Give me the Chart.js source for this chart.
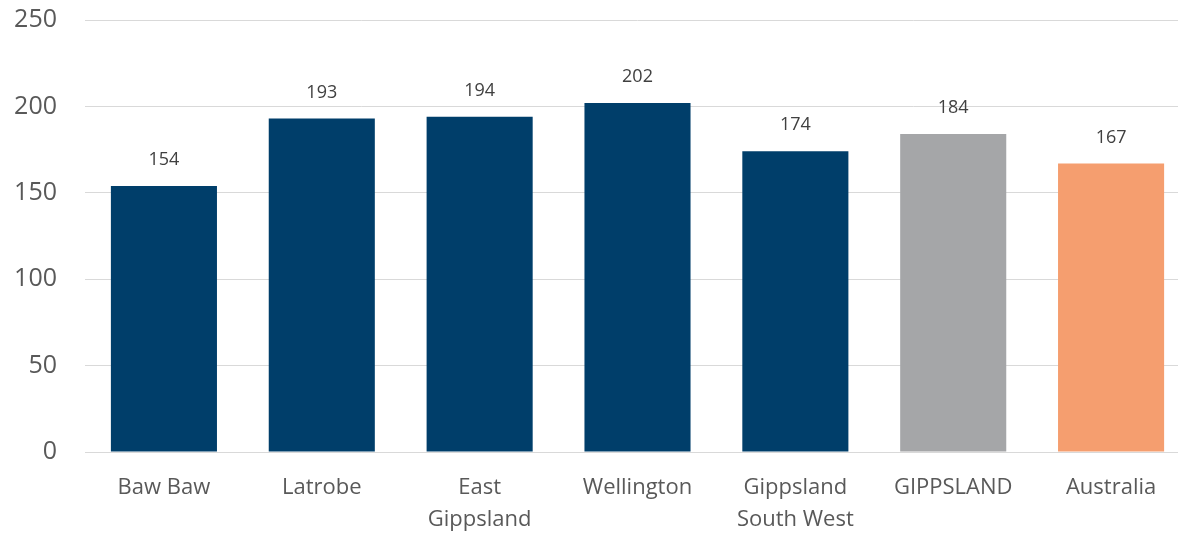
<!DOCTYPE html>
<html>
<head>
<meta charset="utf-8">
<script src="https://cdn.jsdelivr.net/npm/chart.js@4/dist/chart.umd.min.js"></script>
<style>
  html, body { margin: 0; padding: 0; background: #fff; overflow: hidden; }
  #wrap { width: 1190px; height: 557px; margin-top: -23px; position: relative; }
</style>
</head>
<body>
<div id="wrap"><canvas id="chart"></canvas></div>
<script>
'use strict';

var regions = [['Baw Baw'], ['Latrobe'], ['East', 'Gippsland'], ['Wellington'], ['Gippsland', 'South West'], ['GIPPSLAND'], ['Australia']];
var rates = [154, 193, 194, 202, 174, 184, 167];
var barColours = ['#003e6a', '#003e6a', '#003e6a', '#003e6a', '#003e6a', '#a5a6a8', '#f59e6f'];
var yTicks = [0, 50, 100, 150, 200, 250];

var FONT = '"Open Sans", "Noto Sans", sans-serif';

// writes each bar's value just above it
var valueLabels = {
  id: 'valueLabels',
  afterDatasetsDraw: function(chart) {
    var ctx = chart.ctx;
    var meta = chart.getDatasetMeta(0);
    ctx.save();
    ctx.font = '18px ' + FONT;
    ctx.fillStyle = '#404040';
    ctx.textAlign = 'center';
    ctx.textBaseline = 'middle';
    for (var i = 0; i < meta.data.length; i++) {
      var bar = meta.data[i];
      ctx.fillText(String(rates[i]), bar.x, bar.y - 26);
    }
    ctx.restore();
  }
};

var ctx = document.getElementById('chart');

new Chart(ctx, {
  type: 'bar',
  data: {
    labels: regions,
    datasets: [{
      data: rates,
      backgroundColor: barColours,
      barPercentage: 0.672,
      categoryPercentage: 1
    }]
  },
  options: {
    responsive: true,
    maintainAspectRatio: false,
    animation: false,
    layout: { autoPadding: false, padding: { top: 0, right: 0, left: 12, bottom: 0 } },
    plugins: {
      legend: { display: false },
      tooltip: { enabled: false }
    },
    scales: {
      x: {
        grid: { display: false, drawTicks: false },
        border: { color: '#d9d9d9', width: 1 },
        afterFit: function(axis) { axis.height = 82; },
        ticks: {
          color: '#595959',
          font: { family: FONT, size: 22, lineHeight: 1.45 },
          padding: 20,
          maxRotation: 0
        }
      },
      y: {
        min: 0,
        max: 250,
        afterBuildTicks: function(axis) {
          axis.ticks = yTicks.map(function(v) { return { value: v }; });
        },
        afterFit: function(axis) { axis.width = 73; },
        grid: { color: '#d9d9d9', drawTicks: false },
        border: { display: false },
        ticks: {
          color: '#595959',
          font: { family: FONT, size: 25 },
          padding: 28
        }
      }
    }
  },
  plugins: [valueLabels]
});
</script>
</body>
</html>
